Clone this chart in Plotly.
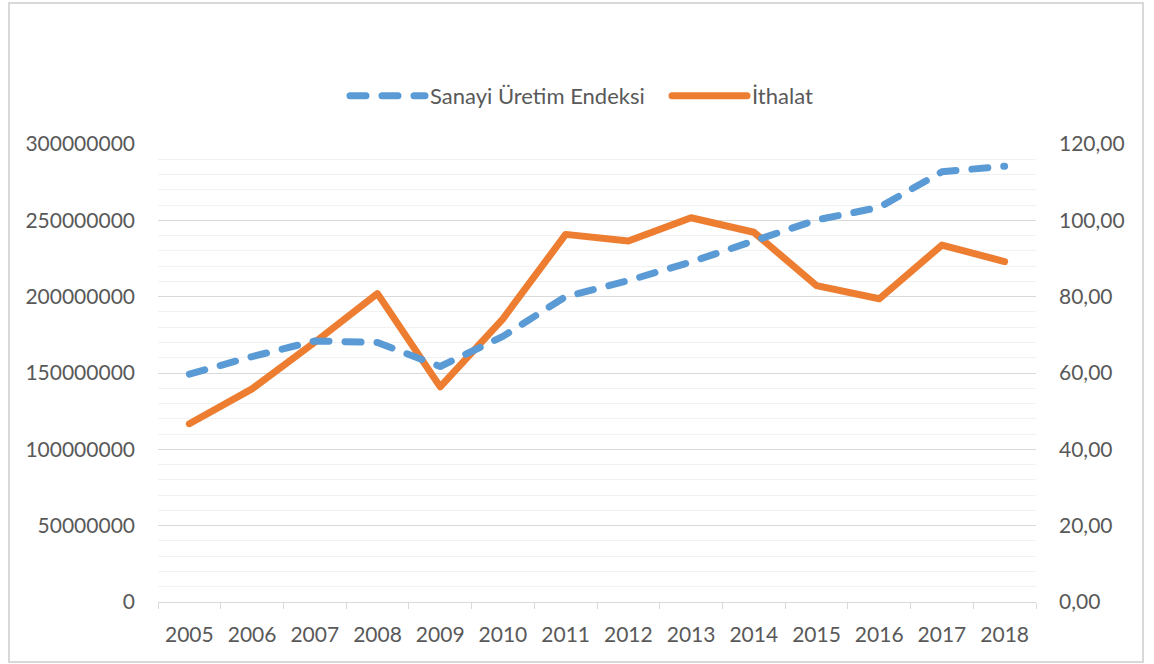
import plotly.graph_objects as go

years = ["2005", "2006", "2007", "2008", "2009", "2010", "2011",
         "2012", "2013", "2014", "2015", "2016", "2017", "2018"]
ithalat = [116.8e6, 139.6e6, 170.1e6, 202.0e6, 140.9e6, 185.5e6, 240.8e6,
           236.5e6, 251.7e6, 242.2e6, 207.2e6, 198.6e6, 233.8e6, 223.0e6]
sanayi = [59.7, 64.3, 68.4, 68.0, 61.7, 69.6, 80.0,
          84.2, 89.1, 94.5, 100.1, 103.4, 112.7, 114.2]

BLUE = "#5B9BD5"
ORANGE = "#ED7D31"
TXT = "#595959"
FONT = "Lato"

fig = go.Figure()
fig.add_trace(go.Scatter(
    x=years, y=sanayi, name="Sanayi Üretim Endeksi", mode="lines",
    line=dict(color=BLUE, width=7, dash="16px,16px"), yaxis="y2"))
fig.add_trace(go.Scatter(
    x=years, y=ithalat, name="İthalat", mode="lines",
    line=dict(color=ORANGE, width=7), yaxis="y"))

fig.update_layout(
    width=1154, height=664,
    margin=dict(l=158, r=118, t=144, b=62),
    paper_bgcolor="white", plot_bgcolor="white",
    separators=",.",
    font=dict(family=FONT, size=21, color=TXT),
    showlegend=True,
    legend=dict(orientation="h", x=(345 - 158) / 878, xanchor="left",
                y=(602 - 96) / 458, yanchor="middle", itemwidth=75,
                entrywidth=232, entrywidthmode="pixels",
                font=dict(family=FONT, size=22, color=TXT),
                traceorder="normal", bgcolor="rgba(0,0,0,0)"),
    xaxis=dict(type="category", range=[-0.5, 13.5], tickson="boundaries",
               ticks="outside", ticklen=6, tickcolor="#D9D9D9",
               showline=True, linecolor="#D9D9D9", linewidth=1,
               showgrid=False, zeroline=False, ticklabelstandoff=14,
               tickfont=dict(family=FONT, size=21, color=TXT)),
    yaxis=dict(range=[0, 300e6], dtick=50e6, tick0=0, tickformat="d",
               showgrid=True, gridcolor="#D9D9D9", gridwidth=1,
               zeroline=False, showline=False, ticks="",
               ticklabelstandoff=22,
               minor=dict(dtick=10e6, showgrid=True, gridcolor="#F2F2F2",
                          gridwidth=1),
               tickfont=dict(family=FONT, size=21, color=TXT)),
    yaxis2=dict(range=[0, 120], dtick=20, tick0=0, tickformat=".2f",
                overlaying="y", side="right", showgrid=False,
                zeroline=False, showline=False, ticks="",
                ticklabelstandoff=22,
                tickfont=dict(family=FONT, size=21, color=TXT)),
    shapes=[dict(type="rect", xref="paper", yref="paper",
                 x0=-0.1697, x1=1.1219, y0=-0.131, y1=1.3079,
                 line=dict(color="#D9D9D9", width=2), layer="below")],
)

post = """
document.body.style.margin='0';
document.body.style.padding='0';
document.documentElement.style.overflow='hidden';
var gd = document.querySelector('.plotly-graph-div');
function rc(){
  document.querySelectorAll('.scatterlayer path.js-line, .legend path.js-line').forEach(function(p){
    p.style.strokeLinecap='round'; p.style.strokeLinejoin='round';
  });
}
rc();
if (gd && gd.on) { gd.on('plotly_afterplot', rc); }
"""
fig.write_html("out.html", post_script=post,
               config={"displayModeBar": False})
